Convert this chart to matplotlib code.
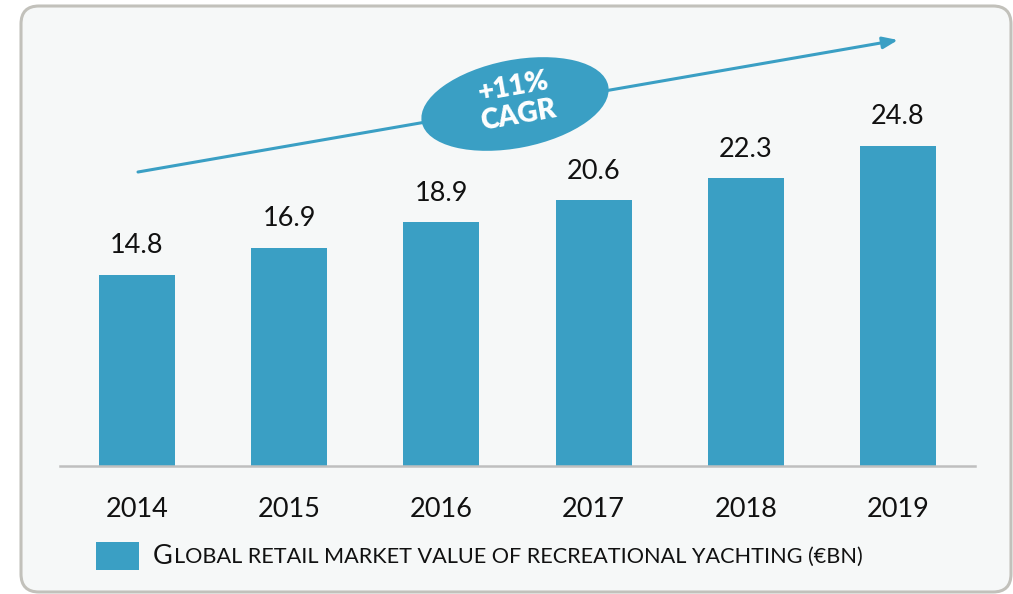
import matplotlib
matplotlib.use("Agg")
import matplotlib.pyplot as plt
import matplotlib.transforms as mtrans
from matplotlib.patches import FancyBboxPatch, Ellipse, Rectangle

years = ["2014", "2015", "2016", "2017", "2018", "2019"]
values = [14.8, 16.9, 18.9, 20.6, 22.3, 24.8]
value_labels = ["14.8", "16.9", "18.9", "20.6", "22.3", "24.8"]
legend_label = "Global retail market value of recreational yachting (€bn)"
cagr_text = "+11%\nCAGR"

BAR = "#3a9fc4"
W, H = 1013, 594
plt.rcParams['font.family'] = ['Lato', 'DejaVu Sans']

fig = plt.figure(figsize=(W / 100, H / 100), dpi=100)
fig.patch.set_facecolor("white")

# overlay (pixel coordinates) for decorations
bg = fig.add_axes([0, 0, 1, 1], zorder=0)
bg.set_xlim(0, W)
bg.set_ylim(H, 0)
bg.axis("off")
frame = FancyBboxPatch((21, 6), 990, 586, boxstyle="round,pad=0,rounding_size=18",
                       facecolor="#f6f8f8", edgecolor="#c2c1bb", linewidth=2.2)
bg.add_patch(frame)

# main bar axes
left_px, right_px, base_px, top_px = 60, 975, 466, 20
ax = fig.add_axes([left_px / W, (H - base_px) / H, (right_px - left_px) / W,
                   (base_px - top_px) / H], zorder=1)
ax.patch.set_alpha(0)
x = list(range(len(years)))
ax.bar(x, values, width=0.5, color=BAR, zorder=2)
ax.set_xlim(-0.506, 5.506)
ax.set_ylim(0, (base_px - top_px) / 12.9)
for xi, v, lab in zip(x, values, value_labels):
    ax.annotate(lab, (xi, v), xytext=(0, 12), textcoords="offset points",
                ha="center", va="bottom", fontsize=19.5, color="#111111")
ax.set_xticks(x)
ax.set_xticklabels(years, fontsize=19.5, color="#111111")
ax.tick_params(axis="x", length=0, pad=22)
ax.set_yticks([])
for s in ["top", "right", "left"]:
    ax.spines[s].set_visible(False)
ax.spines["bottom"].set_color("#bfbfbf")
ax.spines["bottom"].set_linewidth(1.8)

# CAGR arrow
bg.annotate("", xy=(898, 40), xytext=(138, 172),
            arrowprops=dict(arrowstyle="-|>,head_length=0.9,head_width=0.35",
                            color=BAR, lw=2.2, shrinkA=0, shrinkB=0), zorder=3)
ell = Ellipse((515, 104), 190, 88, angle=-11, facecolor=BAR, edgecolor="none", zorder=4)
bg.add_patch(ell)
bg.text(516, 101, cagr_text, ha="center", va="center", rotation=10,
        fontsize=20, fontweight="heavy", color="white", linespacing=1.15, zorder=5)

# legend
bg.add_patch(Rectangle((96, 542), 43, 28, facecolor=BAR, edgecolor="none"))
t1 = bg.text(153, 557, legend_label[0], ha="left", va="center", fontsize=19.5, color="#111111")
fig.canvas.draw()
bb = t1.get_window_extent()
bg.text(bb.x1 + 1, 557, legend_label[1:].upper(), ha="left", va="center", fontsize=15.6,
        color="#111111", transform=mtrans.blended_transform_factory(
            mtrans.IdentityTransform(), bg.transData))

fig.savefig("out.png", dpi=100, facecolor=fig.get_facecolor())
